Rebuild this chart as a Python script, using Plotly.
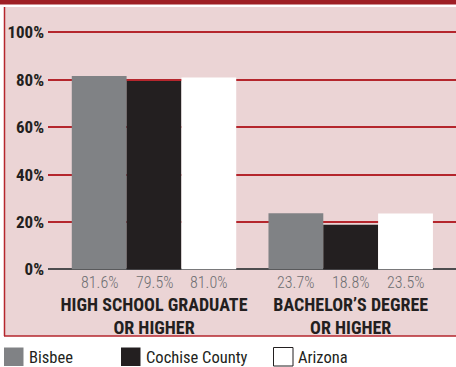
import plotly.graph_objects as go

# Educational attainment, share of population 25+
categories = ["HIGH SCHOOL GRADUATE<br>OR HIGHER", "BACHELOR\u2019S DEGREE<br>OR HIGHER"]
series_names = ["Bisbee", "Cochise County", "Arizona"]
bisbee = [81.6, 23.7]
cochise = [79.5, 18.8]
arizona = [81.0, 23.5]
series_values = [bisbee, cochise, arizona]
y_ticks = [0, 20, 40, 60, 80, 100]
y_tick_labels = [f"{v}%" for v in y_ticks]

# styling
bar_colors = ["#808285", "#231f20", "#ffffff"]
COND = "Roboto Condensed, DejaVu Sans Condensed, sans-serif"
W, H = 456, 367
L, R, T, B = 48, 456, 23, 274          # plot area in pixels
BARGAP = 0.164
bar_w = (1 - BARGAP) / len(series_names)


def px_x(px):
    return (px - L) / (R - L)


def px_y(py):
    return (B - py) / (B - T)


fig = go.Figure()
for name, vals, col in zip(series_names, series_values, bar_colors):
    fig.add_trace(go.Bar(
        name=name, x=list(range(len(categories))), y=vals,
        marker=dict(color=col, line=dict(width=0)),
        showlegend=False, hoverinfo="skip",
    ))

# value labels under each bar
annotations = []
for k, vals in enumerate(series_values):
    for i, v in enumerate(vals):
        annotations.append(dict(
            x=i + (k - 1) * bar_w, y=0, xref="x", yref="y",
            text=f"{v:.1f}%", showarrow=False, yanchor="top", yshift=-1.5,
            font=dict(family=COND, size=16, color="#6d6e71", weight=300),
        ))

# legend drawn as swatches + labels
shapes = []
legend_x = [4, 121, 273.5]
for name, col, lx in zip(series_names, bar_colors, legend_x):
    shapes.append(dict(
        type="rect", xref="paper", yref="paper",
        x0=px_x(lx), x1=px_x(lx + 19.5), y0=px_y(366), y1=px_y(347.5),
        fillcolor=col,
        line=dict(color="#231f20", width=1 if col == "#ffffff" else 0),
    ))
    annotations.append(dict(
        x=px_x(lx + 22.5), y=px_y(357), xref="paper", yref="paper",
        text=name, showarrow=False, xanchor="left", yanchor="middle",
        font=dict(family=COND, size=16.5, color="#231f20"),
    ))

# panel background, header band and borders
shapes = [
    dict(type="rect", xref="paper", yref="paper", layer="below",
         x0=px_x(0), x1=px_x(W), y0=px_y(4.5), y1=px_y(0),
         fillcolor="#9e1f25", line=dict(width=0)),
    dict(type="rect", xref="paper", yref="paper", layer="below",
         x0=px_x(4), x1=px_x(W), y0=px_y(336), y1=px_y(7),
         fillcolor="#ebd4d5", line=dict(width=0)),
    dict(type="line", xref="paper", yref="paper", layer="below",
         x0=px_x(4.5), x1=px_x(4.5), y0=px_y(336), y1=px_y(7),
         line=dict(color="#b5262d", width=1.5)),
    dict(type="line", xref="paper", yref="paper", layer="below",
         x0=px_x(4), x1=px_x(W), y0=px_y(336), y1=px_y(336),
         line=dict(color="#b5262d", width=1.5)),
] + shapes

x0 = -(154 - L) / 196.7
fig.update_layout(
    width=W, height=H,
    margin=dict(l=L, r=W - R, t=T, b=H - B, pad=0),
    paper_bgcolor="#ffffff", plot_bgcolor="rgba(0,0,0,0)",
    barmode="group", bargap=BARGAP, bargroupgap=0,
    shapes=shapes, annotations=annotations,
    xaxis=dict(
        range=[x0, x0 + (R - L) / 196.7],
        tickvals=list(range(len(categories))), ticktext=categories,
        showgrid=False, zeroline=False, showline=False, ticks="",
        ticklabelstandoff=18,
        tickfont=dict(family=COND, size=18, color="#231f20", weight="bold"),
    ),
    yaxis=dict(
        range=[-2, 104], tickvals=y_ticks, ticktext=y_tick_labels,
        showgrid=True, gridcolor="#b5262d", gridwidth=1.6,
        zeroline=True, zerolinecolor="#4d4d4f", zerolinewidth=1.5,
        showline=False, ticks="", ticklabelstandoff=3,
        tickfont=dict(family=COND, size=17, color="#231f20", weight="bold"),
    ),
)

fig.write_html("out.html")
